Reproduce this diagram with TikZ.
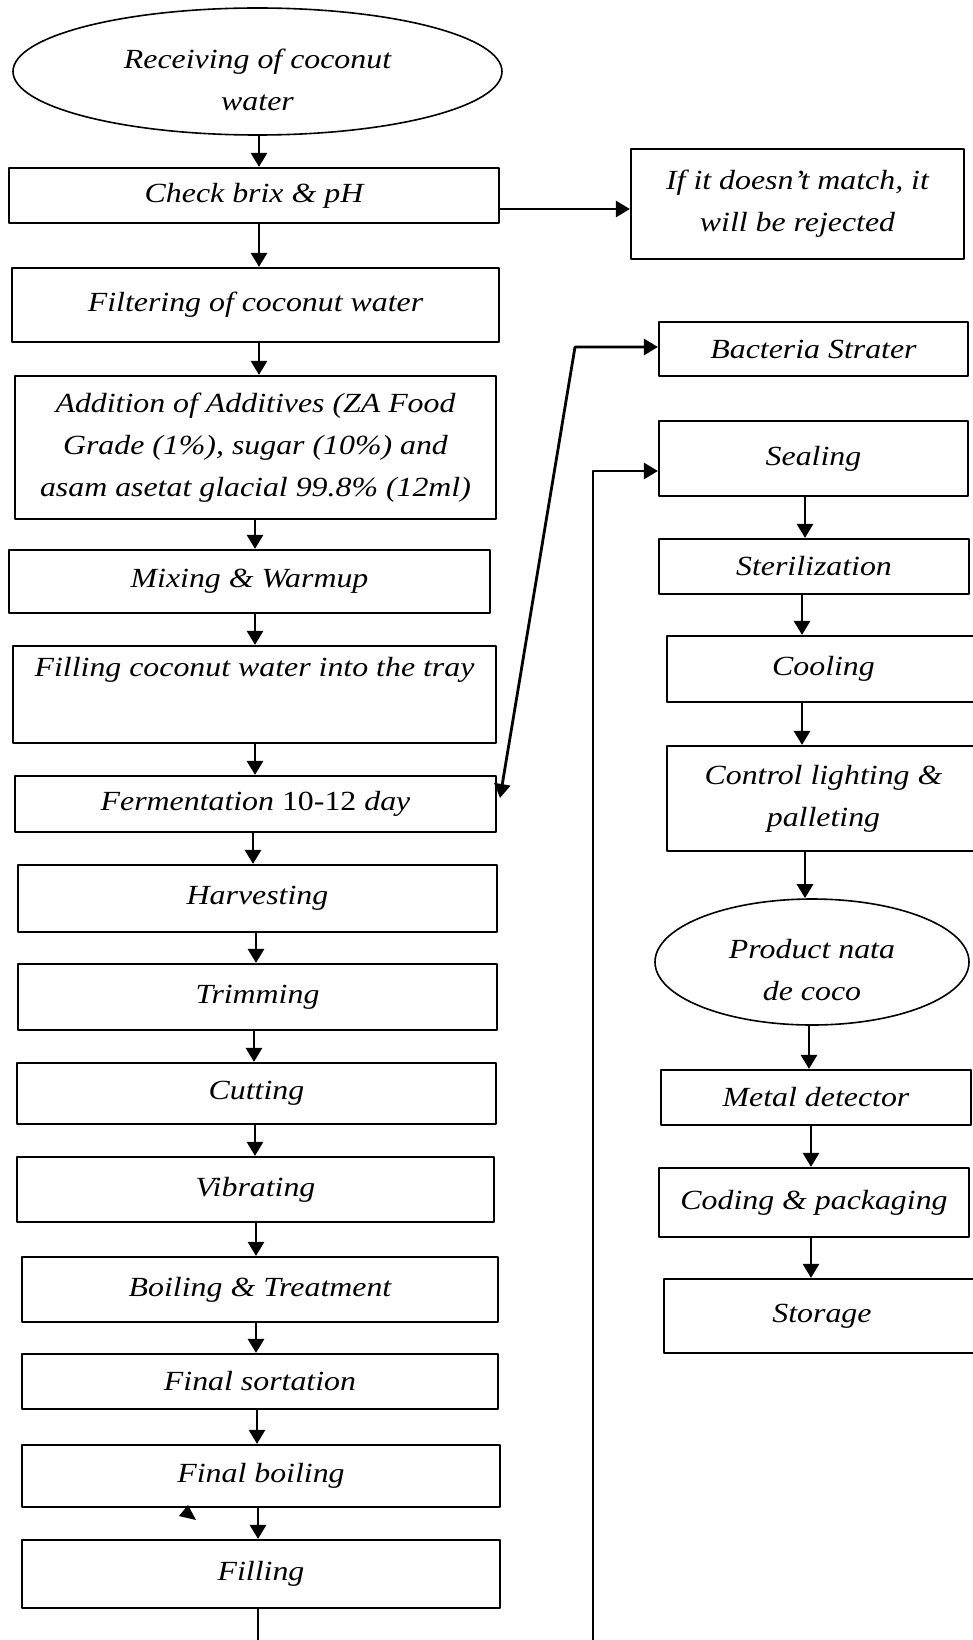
\documentclass[tikz,border=0pt]{standalone}
\usepackage{fontspec}
\setmainfont{Liberation Serif}[FakeStretch=1.15]
\usetikzlibrary{arrows.meta,shapes.geometric}
\newcommand\ovalpad{\rule{0pt}{36pt}}
\tikzset{
  stepbox/.style={draw,line width=2.2pt,inner sep=0pt,align=center},
  oval/.style={draw,ellipse,line width=1.6pt,inner xsep=0pt,inner ysep=-25pt,align=center},
  flow/.style={line width=2.8pt,->},
  >={Triangle[length=14pt,width=16pt]}
}
\begin{document}
\begin{tikzpicture}[x=1pt,y=-1pt,line join=round,
  every node/.style={font=\fontsize{27.7}{42}\selectfont\itshape}]
  \clip (0,0) rectangle (973,1640);
  \node[oval,minimum width=489pt,minimum height=127pt] (recv) at (257.5,71.5) {\ovalpad Receiving of coconut\\water};
  \node[stepbox,minimum width=490pt,minimum height=55pt] (check) at (254,195.5) {Check brix \& pH};
  \node[stepbox,minimum width=333pt,minimum height=110pt] (reject) at (797.5,204) {If it doesn’t match, it\\will be rejected};
  \node[stepbox,minimum width=487pt,minimum height=74pt] (filter) at (255.5,305) {Filtering of coconut water};
  \node[stepbox,minimum width=481pt,minimum height=143pt] (addit) at (255.5,447.5) {Addition of Additives (ZA Food\\Grade (1\%), sugar (10\%) and\\asam asetat glacial 99.8\% (12ml)};
  \node[stepbox,minimum width=481pt,minimum height=63pt] (mixing) at (249.5,581.5) {Mixing \& Warmup};
  \node[stepbox,minimum width=483pt,minimum height=97pt] (tray) at (254.5,694.5) {Filling coconut water into the tray\\\strut};
  \node[stepbox,minimum width=481pt,minimum height=56pt] (ferment) at (255.5,804) {Fermentation \textup{10-12} day};
  \node[stepbox,minimum width=479pt,minimum height=67pt] (harvest) at (257.5,898.5) {Harvesting};
  \node[stepbox,minimum width=479pt,minimum height=66pt] (trim) at (257.5,997) {Trimming};
  \node[stepbox,minimum width=479pt,minimum height=61pt] (cut) at (256.5,1093.5) {Cutting};
  \node[stepbox,minimum width=477pt,minimum height=65pt] (vibrate) at (255.5,1189.5) {Vibrating};
  \node[stepbox,minimum width=476pt,minimum height=65pt] (boil) at (260,1289.5) {Boiling \& Treatment};
  \node[stepbox,minimum width=476pt,minimum height=55pt] (sort) at (260,1381.5) {Final sortation};
  \node[stepbox,minimum width=478pt,minimum height=62pt] (fboil) at (261,1476) {Final boiling};
  \node[stepbox,minimum width=478pt,minimum height=68pt] (fill) at (261,1574) {Filling};
  \node[stepbox,minimum width=309pt,minimum height=54pt] (bact) at (813.5,349) {Bacteria Strater};
  \node[stepbox,minimum width=309pt,minimum height=75pt] (seal) at (813.5,458.5) {Sealing};
  \node[stepbox,minimum width=310pt,minimum height=55pt] (steril) at (814,566.5) {Sterilization};
  \node[stepbox,minimum width=313pt,minimum height=66pt] (cool) at (823.5,669) {Cooling};
  \node[stepbox,minimum width=313pt,minimum height=105pt] (control) at (823.5,798.5) {Control lighting \&\\palleting};
  \node[oval,minimum width=314pt,minimum height=126pt] (product) at (812,962) {\ovalpad Product nata\\de coco};
  \node[stepbox,minimum width=310pt,minimum height=55pt] (metal) at (816,1097.5) {Metal detector};
  \node[stepbox,minimum width=310pt,minimum height=69pt] (coding) at (814,1202.5) {Coding \& packaging};
  \node[stepbox,minimum width=316pt,minimum height=74pt] (storage) at (822,1316) {Storage};
  \foreach \a/\b/\x in {recv/check/259,check/filter/259,filter/addit/259,addit/mixing/255,
    mixing/tray/255,tray/ferment/255,ferment/harvest/253,harvest/trim/256,trim/cut/254,
    cut/vibrate/255,vibrate/boil/256,boil/sort/256,sort/fboil/257,fboil/fill/258,
    seal/steril/805,steril/cool/802,cool/control/802,control/product/805,
    product/metal/809,metal/coding/811,coding/storage/811}
  {
    \coordinate (xc) at (\x,0);
    \draw[flow] (\a.south -| xc) -- (\b.north -| xc);
  }
  \coordinate (rejy) at (0,209);
  \draw[flow] (check.east |- rejy) -- (reject.west |- rejy);
  \coordinate (kink) at (575,347);
  \coordinate (fermtip) at (500,798);
  \draw[flow,<->] (fermtip) -- (kink) -- (bact.west |- kink);
  \coordinate (drop) at (258,0);
  \coordinate (loop) at (593,1665);
  \coordinate (sealy) at (0,471);
  \draw[flow] (fill.south -| drop) |- (loop) |- (seal.west |- sealy);
  \fill (188,1505) -- (179,1516) -- (196,1520) -- cycle;
\end{tikzpicture}
\end{document}
